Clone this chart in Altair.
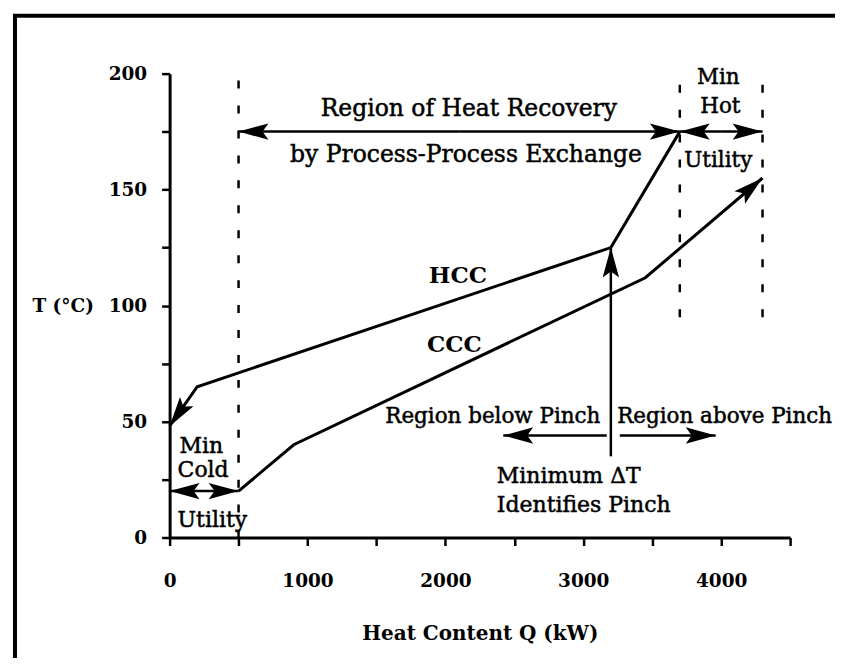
import math
import altair as alt
import pandas as pd

# ---- data ----
hcc_q = [0, 200, 3200, 3700]
hcc_t = [48, 65, 125, 175]
ccc_q = [500, 900, 3450, 4300]
ccc_t = [20, 40, 112, 155]

# dashed utility boundaries
dash_q = [500, 3700, 4300]
dash_t0 = [0, 95, 95]
dash_t1 = [200, 200, 200]

# straight arrows: start -> tip
arr_q0 = [2100, 2100, 4000, 4000, 250, 250, 3200, 3170, 3265]
arr_t0 = [175, 175, 175, 175, 20, 20, 35, 44, 44]
arr_q1 = [500, 3700, 3700, 4300, 0, 500, 3200, 2420, 3960]
arr_t1 = [175, 175, 175, 175, 20, 20, 125, 44, 44]

# labels
top_text = ["Region of Heat Recovery", "by Process-Process Exchange"]
top_q = [2170, 2149]
top_t = [181.9, 161.7]

c_text = ["Min", "Hot", "Utility", "Region below Pinch", "Region above Pinch"]
c_q = [3979, 3994, 3979, 2344, 4025]
c_t = [195.7, 183.2, 159.6, 49.5, 49.5]

l_text = ["Min", "Cold", "Utility", "Minimum \u0394T", "Identifies Pinch"]
l_q = [72, 58, 58, 2373, 2373]
l_t = [36.6, 26.2, 4.7, 23.7, 11.2]

b_text = ["HCC", "CCC"]
b_q = [2091, 2066]
b_t = [109.7, 80.0]

W, H = 622, 465
QMAX, TMAX = 4500, 200
KX, KY = W / QMAX, H / TMAX


def heading(q0, t0, q1, t1):
    a = math.degrees(math.atan2(-(t1 - t0) * KY, (q1 - q0) * KX))
    return a % 360


curves = pd.DataFrame({
    "q": hcc_q + ccc_q,
    "t": hcc_t + ccc_t,
    "curve": ["HCC"] * len(hcc_q) + ["CCC"] * len(ccc_q),
    "order": list(range(len(hcc_q))) + list(range(len(ccc_q))),
})

heads = pd.DataFrame({
    "q": arr_q1 + [hcc_q[0], ccc_q[-1]],
    "t": arr_t1 + [hcc_t[0], ccc_t[-1]],
    "angle": [heading(a, b, c, d) for a, b, c, d in zip(arr_q0, arr_t0, arr_q1, arr_t1)]
    + [heading(hcc_q[1], hcc_t[1], hcc_q[0], hcc_t[0]),
       heading(ccc_q[-2], ccc_t[-2], ccc_q[-1], ccc_t[-1])],
})

segs = pd.DataFrame({"q": arr_q0, "t": arr_t0, "q2": arr_q1, "t2": arr_t1})
dashes = pd.DataFrame({"q": dash_q, "t": dash_t0, "t2": dash_t1})

FONT = "DejaVu Serif"

xs = alt.Scale(domain=[0, QMAX], nice=False, zero=False)
ys = alt.Scale(domain=[0, TMAX], nice=False, zero=False)

x_axis = alt.Axis(
    values=list(range(0, 4501, 500)),
    labelExpr="datum.value % 1000 === 0 ? datum.label : ''",
    format="d", grid=False, labelFlush=False, labelOverlap=False,
    domainColor="black", domainWidth=3, tickColor="black", tickWidth=2.5, tickSize=8,
    labelFont=FONT, labelFontWeight="bold", labelFontSize=18.5, labelColor="black",
    labelPadding=26,
    title="Heat Content Q (kW)", titleFont=FONT, titleFontWeight="bold", titleFontSize=20,
    titleColor="black", titleX=W / 2, titleY=102, titleAlign="center",
    titleBaseline="alphabetic", titleAnchor="middle",
)
y_axis = alt.Axis(
    values=list(range(0, 201, 25)),
    labelExpr="datum.value % 50 === 0 ? datum.label : ''",
    format="d", grid=False, labelFlush=False, labelOverlap=False,
    domainColor="black", domainWidth=3, tickColor="black", tickWidth=2.5, tickSize=8,
    labelFont=FONT, labelFontWeight="bold", labelFontSize=18.5, labelColor="black",
    labelPadding=15,
    title="T (\u00b0C)", titleFont=FONT, titleFontWeight="bold", titleFontSize=18.5,
    titleColor="black", titleAngle=0, titleX=-138, titleY=H - 100 * KY,
    titleAlign="left", titleBaseline="middle",
)

base_x = alt.X("q:Q", scale=xs, axis=x_axis)
base_y = alt.Y("t:Q", scale=ys, axis=y_axis)

lines = alt.Chart(curves).mark_line(color="black", strokeWidth=3).encode(
    x=base_x, y=base_y, detail="curve:N", order="order:Q")

dash_layer = alt.Chart(dashes).mark_rule(color="black", strokeWidth=2.5, strokeDash=[8, 17]).encode(
    x="q:Q", y="t:Q", y2="t2:Q")

seg_layer = alt.Chart(segs).mark_rule(color="black", strokeWidth=2.5).encode(
    x="q:Q", y="t:Q", x2="q2:Q", y2="t2:Q")

head_layer = alt.Chart(heads).mark_point(
    shape="M0,0 L-2,-0.55 L-1.6,0 L-2,0.55 Z", size=900, filled=True, color="black", opacity=1
).encode(x="q:Q", y="t:Q", angle=alt.Angle("angle:Q", scale=None))

ttext = alt.Chart(pd.DataFrame({"q": top_q, "t": top_t, "s": top_text})).mark_text(
    font=FONT, fontSize=23.5, align="center", baseline="alphabetic", color="black",
    stroke="black", strokeWidth=0.5
).encode(x="q:Q", y="t:Q", text="s:N")

ctext = alt.Chart(pd.DataFrame({"q": c_q, "t": c_t, "s": c_text})).mark_text(
    font=FONT, fontSize=21.5, align="center", baseline="alphabetic", color="black",
    stroke="black", strokeWidth=0.5
).encode(x="q:Q", y="t:Q", text="s:N")

ltext = alt.Chart(pd.DataFrame({"q": l_q, "t": l_t, "s": l_text})).mark_text(
    font=FONT, fontSize=22, align="left", baseline="alphabetic", color="black",
    stroke="black", strokeWidth=0.5
).encode(x="q:Q", y="t:Q", text="s:N")

btext = alt.Chart(pd.DataFrame({"q": b_q, "t": b_t, "s": b_text})).mark_text(
    font=FONT, fontSize=23, fontWeight="bold", align="center", baseline="alphabetic", color="black"
).encode(x="q:Q", y="t:Q", text="s:N")

one = pd.DataFrame({"k": [0]})
frame_left = alt.Chart(one).mark_rule(color="black", strokeWidth=4).encode(
    x=alt.value(-155), y=alt.value(-58), y2=alt.value(H + 130))
frame_top = alt.Chart(one).mark_rule(color="black", strokeWidth=4).encode(
    x=alt.value(-157), x2=alt.value(W + 60), y=alt.value(-58))

chart = alt.layer(
    frame_left, frame_top, lines, dash_layer, seg_layer, head_layer, ttext, ctext, ltext, btext
).properties(
    width=W, height=H,
    padding={"left": 162, "top": 65, "right": 45, "bottom": 120},
    autosize=alt.AutoSizeParams(type="none"),
    background="white",
).configure_view(stroke=None)

chart.save("out.html", embed_options={"renderer": "svg", "actions": False})
